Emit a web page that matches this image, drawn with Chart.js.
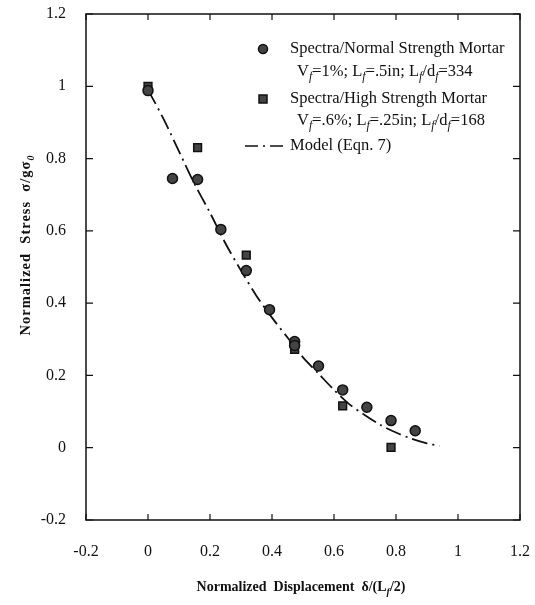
<!DOCTYPE html>
<html>
<head>
<meta charset="utf-8">
<script src="https://cdn.jsdelivr.net/npm/chart.js@4.4.1/dist/chart.umd.min.js"></script>
<style>
  body { margin: 0; background: #fff; }
  #wrap { width: 535px; height: 605px; }
</style>
</head>
<body>
<div id="wrap"><canvas id="myChart" width="535" height="605"></canvas></div>
<script>
// Spectra / normal strength mortar (circles)
const normalX = [0, 0.079, 0.16, 0.235, 0.317, 0.392, 0.473, 0.473, 0.55, 0.628, 0.706, 0.784, 0.862];
const normalY = [0.988, 0.745, 0.742, 0.604, 0.49, 0.382, 0.294, 0.283, 0.226, 0.16, 0.112, 0.075, 0.047];

// Spectra / high strength mortar (squares)
const highX = [0, 0.16, 0.317, 0.473, 0.628, 0.784];
const highY = [1.0, 0.83, 0.533, 0.272, 0.116, 0.001];

// Model (Eqn. 7)
const modelX = [0, 0.05, 0.1, 0.15, 0.2, 0.25, 0.3, 0.35, 0.4, 0.45, 0.5, 0.55, 0.6, 0.65, 0.7, 0.75, 0.8, 0.85, 0.9, 0.94];
const modelY = [0.99, 0.91, 0.82, 0.73, 0.65, 0.565, 0.49, 0.42, 0.36, 0.305, 0.25, 0.205, 0.16, 0.12, 0.09, 0.063, 0.042, 0.025, 0.012, 0.005];

const tickVals = [-0.2, 0, 0.2, 0.4, 0.6, 0.8, 1, 1.2];

const toPts = (xs, ys) => xs.map((x, i) => ({ x: x, y: ys[i] }));
const SERIF = '"Liberation Serif", "DejaVu Serif", serif';

// draws text pieces, subscripts given as {t, sub:true}
function drawRich(ctx, parts, x, y, size, bold, spacing) {
  let cx = x;
  ctx.letterSpacing = (spacing || 0) + 'px';
  parts.forEach(p => {
    if (p.sub) {
      ctx.font = 'italic ' + (bold ? 'bold ' : '') + Math.round(size * 0.7) + 'px ' + SERIF;
      ctx.fillText(p.t, cx, y + size * 0.28);
    } else {
      ctx.font = (bold ? 'bold ' : '') + size + 'px ' + SERIF;
      ctx.fillText(p.t, cx, y);
    }
    cx += ctx.measureText(p.t).width;
  });
  ctx.letterSpacing = '0px';
  return cx - x;
}
function richWidth(ctx, parts, size, bold, spacing) {
  let w = 0;
  ctx.letterSpacing = (spacing || 0) + 'px';
  parts.forEach(p => {
    ctx.font = (p.sub ? 'italic ' : '') + (bold ? 'bold ' : '') + (p.sub ? Math.round(size * 0.7) : size) + 'px ' + SERIF;
    w += ctx.measureText(p.t).width;
  });
  ctx.letterSpacing = '0px';
  return w;
}

const framePlugin = {
  id: 'frame',
  afterDraw(chart) {
    const ctx = chart.ctx;
    const a = chart.chartArea;
    const xs = chart.scales.x, ys = chart.scales.y;
    ctx.save();
    ctx.strokeStyle = '#111';
    ctx.lineWidth = 1.5;
    ctx.strokeRect(a.left, a.top, a.right - a.left, a.bottom - a.top);

    // inward ticks on all four sides
    ctx.lineWidth = 1.2;
    tickVals.forEach(v => {
      const px = xs.getPixelForValue(v);
      const py = ys.getPixelForValue(v);
      ctx.beginPath();
      ctx.moveTo(px, a.bottom); ctx.lineTo(px, a.bottom - 6);
      ctx.moveTo(px, a.top); ctx.lineTo(px, a.top + 6);
      ctx.moveTo(a.left, py); ctx.lineTo(a.left + 7, py);
      ctx.moveTo(a.right, py); ctx.lineTo(a.right - 7, py);
      ctx.stroke();
    });

    // legend
    ctx.textBaseline = 'middle';
    ctx.textAlign = 'left';
    ctx.beginPath();
    ctx.arc(263, 49, 4.5, 0, Math.PI * 2);
    ctx.fillStyle = '#444'; ctx.fill();
    ctx.strokeStyle = '#111'; ctx.lineWidth = 1.5; ctx.stroke();
    ctx.fillStyle = '#444';
    ctx.fillRect(259, 95, 8, 8);
    ctx.strokeRect(259, 95, 8, 8);

    ctx.fillStyle = '#111';
    drawRich(ctx, [{ t: 'Spectra/Normal Strength Mortar' }], 290, 49, 16.5, false);
    drawRich(ctx, [{ t: 'V' }, { t: 'f', sub: true }, { t: '=1%; L' }, { t: 'f', sub: true }, { t: '=.5in; L' },
      { t: 'f', sub: true }, { t: '/d' }, { t: 'f', sub: true }, { t: '=334' }], 297, 72, 16.5, false);
    drawRich(ctx, [{ t: 'Spectra/High Strength Mortar' }], 290, 99, 16.5, false);
    drawRich(ctx, [{ t: 'V' }, { t: 'f', sub: true }, { t: '=.6%; L' }, { t: 'f', sub: true }, { t: '=.25in; L' },
      { t: 'f', sub: true }, { t: '/d' }, { t: 'f', sub: true }, { t: '=168' }], 297, 121, 16.5, false);

    ctx.strokeStyle = '#111';
    ctx.lineWidth = 1.6;
    ctx.setLineDash([13, 5, 2, 5]);
    ctx.beginPath();
    ctx.moveTo(245, 146); ctx.lineTo(285, 146);
    ctx.stroke();
    ctx.setLineDash([]);
    drawRich(ctx, [{ t: 'Model (Eqn. 7)' }], 290, 146, 16.5, false);

    // axis titles
    ctx.textBaseline = 'alphabetic';
    const xt = [{ t: 'Normalized  Displacement  \u03b4/(L' }, { t: 'f', sub: true }, { t: '/2)' }];
    const xw = richWidth(ctx, xt, 14, true, 0);
    drawRich(ctx, xt, 301 - xw / 2, 591, 14, true, 0);

    const yt = [{ t: 'Normalized  Stress  \u03c3/g\u03c3' }, { t: '0', sub: true }];
    const yw = richWidth(ctx, yt, 14.5, true, 1.0);
    ctx.translate(30, 245);
    ctx.rotate(-Math.PI / 2);
    drawRich(ctx, yt, -yw / 2, 0, 14.5, true, 1.0);
    ctx.restore();
  }
};

const ctx = document.getElementById('myChart');

new Chart(ctx, {
  type: 'scatter',
  data: {
    datasets: [
      {
        label: 'Spectra/Normal Strength Mortar',
        data: toPts(normalX, normalY),
        pointStyle: 'circle',
        pointRadius: 5,
        backgroundColor: '#444',
        borderColor: '#111',
        borderWidth: 1.5,
        order: 1
      },
      {
        label: 'Spectra/High Strength Mortar',
        data: toPts(highX, highY),
        pointStyle: 'rect',
        pointRadius: 5.5,
        backgroundColor: '#444',
        borderColor: '#111',
        borderWidth: 1.5,
        order: 2
      },
      {
        label: 'Model (Eqn. 7)',
        data: toPts(modelX, modelY),
        showLine: true,
        pointRadius: 0,
        borderColor: '#111',
        borderWidth: 1.8,
        borderDash: [16, 5, 2, 5],
        tension: 0.3,
        order: 3
      }
    ]
  },
  options: {
    responsive: false,
    animation: false,
    layout: { padding: { top: 14, right: 15, left: 0, bottom: 0 } },
    plugins: {
      legend: { display: false },
      tooltip: { enabled: false }
    },
    scales: {
      x: {
        type: 'linear',
        min: -0.2, max: 1.2,
        grid: { display: false, drawTicks: false },
        border: { display: false },
        ticks: {
          stepSize: 0.2, padding: 22, color: '#111',
          font: { family: SERIF, size: 16 },
          callback: v => String(parseFloat(v.toFixed(1)))
        },
        afterFit: s => { s.height = 85; s.paddingLeft = 0; s.paddingRight = 0; }
      },
      y: {
        type: 'linear',
        min: -0.2, max: 1.2,
        grid: { display: false, drawTicks: false },
        border: { display: false },
        ticks: {
          stepSize: 0.2, padding: 20, color: '#111',
          font: { family: SERIF, size: 16 },
          callback: v => String(parseFloat(v.toFixed(1)))
        },
        afterFit: s => { s.width = 86; s.paddingTop = 0; s.paddingBottom = 0; }
      }
    }
  },
  plugins: [framePlugin]
});
</script>
</body>
</html>
